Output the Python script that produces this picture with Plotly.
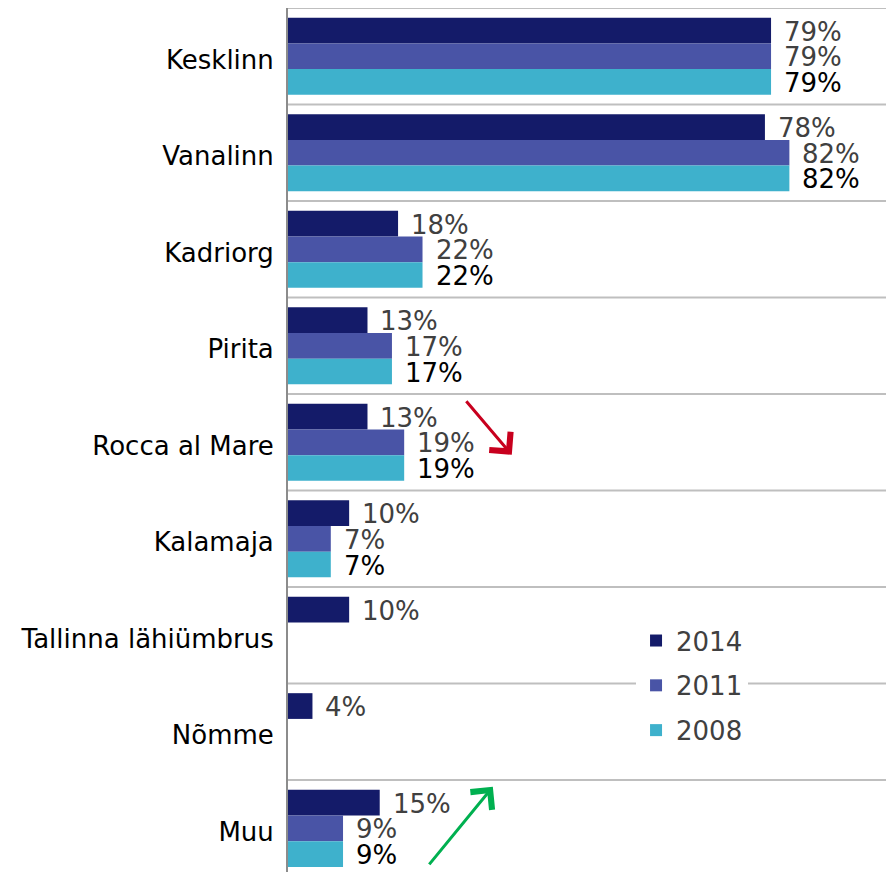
import plotly.graph_objects as go

categories = ["Kesklinn", "Vanalinn", "Kadriorg", "Pirita", "Rocca al Mare",
              "Kalamaja", "Tallinna lähiümbrus", "Nõmme", "Muu"]
series_names = ["2014", "2011", "2008"]
v2014 = [79, 78, 18, 13, 13, 10, 10, 4, 15]
v2011 = [79, 82, 22, 17, 19, 7, None, None, 9]
v2008 = [79, 82, 22, 17, 19, 7, None, None, 9]
colors = ["#141b69", "#4954a6", "#3eb1cc"]
label_colors = ["#404040", "#404040", "#000000"]

FONT = "DejaVu Sans"
FS = 26
W, H = 886, 872
ypos = list(range(len(categories)))
series = [v2014, v2011, v2008]

fig = go.Figure()
for name, vals, col in zip(series_names, series, colors):
    fig.add_trace(go.Bar(
        y=ypos, x=vals, name=name, orientation="h",
        marker=dict(color=col, line=dict(width=0)),
        legendgroup=name, hoverinfo="skip",
    ))

# value labels
bw = 0.8 / 3
annotations = []
for k, (vals, lc) in enumerate(zip(series, label_colors)):
    off = (k - 1) * bw
    for i, v in enumerate(vals):
        if v is None:
            continue
        annotations.append(dict(
            x=v, y=i + off, xref="x", yref="y", text=f"{v}%",
            showarrow=False, xanchor="left", yanchor="middle", xshift=11, yshift=-1,
            font=dict(family=FONT, size=FS, color=lc),
        ))

# trend arrows
annotations.append(dict(x=36.6, y=4.13, ax=28.95, ay=3.56, xref="x", yref="y",
                        axref="x", ayref="y", showarrow=True, arrowhead=4,
                        arrowsize=1.8, arrowwidth=3, arrowcolor="#c8001e", text=""))
annotations.append(dict(x=33.5, y=7.57, ax=22.9, ay=8.39, xref="x", yref="y",
                        axref="x", ayref="y", showarrow=True, arrowhead=4,
                        arrowsize=1.8, arrowwidth=3, arrowcolor="#00b050", text=""))

# separators between categories
shapes = []
for i in range(len(categories)):
    shapes.append(dict(type="line", xref="paper", x0=0, x1=1, yref="y",
                       y0=i - 0.5, y1=i - 0.5, line=dict(color="#bfbfbf", width=2),
                       layer="below"))

fig.update_layout(
    width=W, height=H,
    margin=dict(l=288, r=0, t=8, b=0, autoexpand=False),
    paper_bgcolor="white", plot_bgcolor="white",
    barmode="group", bargap=0.2, bargroupgap=0,
    font=dict(family=FONT, size=FS, color="#000000"),
    xaxis=dict(range=[0, 97.8], visible=False, fixedrange=True, automargin=False),
    yaxis=dict(range=[8.453, -0.5], tickmode="array",
               tickvals=[p + 0.035 for p in ypos],
               ticktext=categories, showgrid=False, zeroline=False,
               showline=True, linecolor="#8c8c8c", linewidth=2,
               ticks="", ticklabelstandoff=7, automargin=False, fixedrange=True,
               tickfont=dict(family=FONT, size=FS, color="#000000")),
    showlegend=True,
    legend=dict(x=0.582, y=0.295, xanchor="left", yanchor="top",
                bgcolor="white", borderwidth=0, traceorder="grouped",
                tracegroupgap=8, itemwidth=30,
                font=dict(family=FONT, size=FS, color="#404040")),
    annotations=annotations, shapes=shapes,
)

fig.write_html("out.html", config={"displayModeBar": False},
               post_script="document.body.style.margin='0px';document.body.style.overflow='hidden';")
